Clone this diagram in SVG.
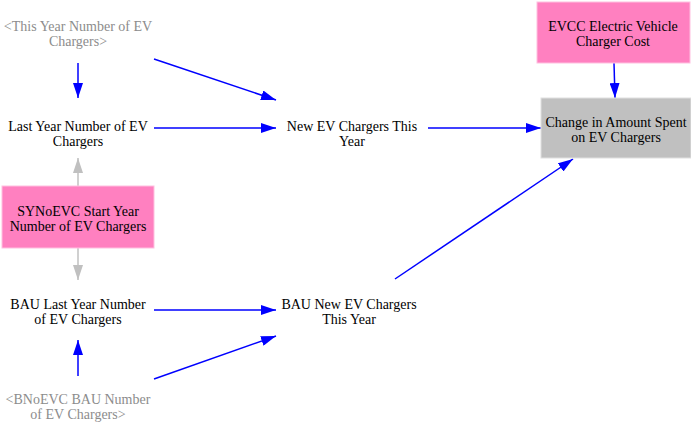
<svg xmlns="http://www.w3.org/2000/svg" width="691" height="424" viewBox="0 0 691 424">
<style>
text{font-family:'Liberation Serif','Times New Roman',Times,serif;font-size:14px;text-anchor:middle;fill:#000}
.ghost{fill:#8c8c8c}
.pink{fill:#ff80c0;stroke:#ffc0e0;stroke-width:1}
.grey{fill:#c0c0c0;stroke:#e0e0e0;stroke-width:1}
.b{stroke:#0000ff;stroke-width:1.5;fill:none}
.g{stroke:#c0c0c0;stroke-width:1.5;fill:none}
</style>
<defs>
<marker id="ab" viewBox="0 0 15 10" refX="15" refY="5" markerWidth="15" markerHeight="10" markerUnits="userSpaceOnUse" orient="auto"><path d="M0,0L15,5L0,10z" fill="#0000ff"/></marker>
<marker id="ag" viewBox="0 0 15 10" refX="15" refY="5" markerWidth="15" markerHeight="10" markerUnits="userSpaceOnUse" orient="auto"><path d="M0,0L15,5L0,10z" fill="#c0c0c0"/></marker>
</defs>
<g id="connectors">
<line class="b" x1="78" y1="63" x2="78" y2="98" marker-end="url(#ab)"/>
<line class="b" x1="154" y1="59" x2="276" y2="100" marker-end="url(#ab)"/>
<line class="b" x1="154" y1="128" x2="276" y2="128" marker-end="url(#ab)"/>
<line class="b" x1="428" y1="128" x2="541" y2="128" marker-end="url(#ab)"/>
<line class="b" x1="614" y1="63" x2="615" y2="98" marker-end="url(#ab)"/>
<line class="g" x1="78" y1="186" x2="78" y2="158" marker-end="url(#ag)"/>
<line class="g" x1="78" y1="248" x2="78" y2="280" marker-end="url(#ag)"/>
<line class="b" x1="154" y1="310" x2="276" y2="310" marker-end="url(#ab)"/>
<line class="b" x1="395" y1="279" x2="573" y2="159" marker-end="url(#ab)"/>
<line class="b" x1="78" y1="376" x2="78" y2="340" marker-end="url(#ab)"/>
<line class="b" x1="154" y1="379" x2="276" y2="336" marker-end="url(#ab)"/>
</g>
<g font-family="Liberation Serif, serif">
<g id="this_year"><text class="ghost" x="78" y="31">&lt;This Year Number of EV</text><text class="ghost" x="78" y="46">Chargers&gt;</text></g>
<g id="last_year"><text x="78" y="131">Last Year Number of EV</text><text x="78" y="146">Chargers</text></g>
<g id="new_ev"><text x="352" y="131">New EV Chargers This</text><text x="352" y="146">Year</text></g>
<g id="evcc"><rect class="pink" x="537" y="2" width="153" height="61"/><text x="613" y="31">EVCC Electric Vehicle</text><text x="613" y="46">Charger Cost</text></g>
<g id="change"><rect class="grey" x="541" y="98" width="150" height="60"/><text x="616" y="127">Change in Amount Spent</text><text x="616" y="142">on EV Chargers</text></g>
<g id="synoevc"><rect class="pink" x="2" y="186" width="152" height="62"/><text x="78" y="216">SYNoEVC Start Year</text><text x="78" y="231">Number of EV Chargers</text></g>
<g id="bau_last"><text x="78" y="309">BAU Last Year Number</text><text x="78" y="324">of EV Chargers</text></g>
<g id="bau_new"><text x="349" y="309">BAU New EV Chargers</text><text x="349" y="324">This Year</text></g>
<g id="bnoevc"><text class="ghost" x="78" y="404">&lt;BNoEVC BAU Number</text><text class="ghost" x="78" y="419">of EV Chargers&gt;</text></g>
</g>
</svg>
